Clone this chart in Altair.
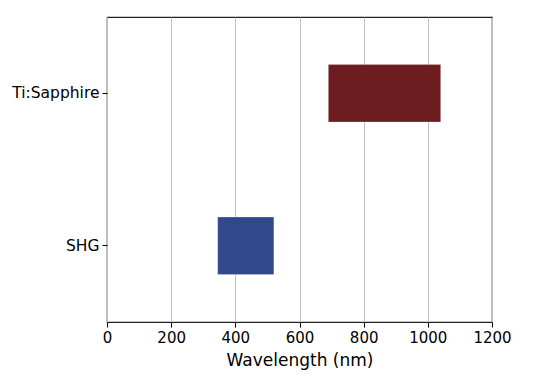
import altair as alt
import pandas as pd

sources = ["Ti:Sapphire", "SHG"]
start_nm = [690, 345]
end_nm = [1040, 520]
colors = ["#6d1c20", "#31488a"]

df = pd.DataFrame({"source": sources, "start": start_nm, "end": end_nm, "color": colors})

chart = alt.Chart(df).mark_bar(height=alt.RelativeBandSize(0.376), stroke="#ffffff", strokeOpacity=0.35, strokeWidth=0.6).encode(
    x=alt.X("start:Q", title="Wavelength (nm)",
            scale=alt.Scale(domain=[0, 1200], nice=False, zero=False),
            axis=alt.Axis(values=[0, 200, 400, 600, 800, 1000, 1200], format="d", grid=True, gridColor="#c0c0c0",
                          gridWidth=1, domain=False, tickColor="#000000", tickSize=5, tickWidth=1,
                          labelFontSize=15, labelColor="#000000", labelFont="DejaVu Sans",
                          labelPadding=3, titleFontSize=17, titleFont="DejaVu Sans",
                          titleFontWeight="normal", titleColor="#000000", titlePadding=7,
                          labelFlush=False)),
    x2="end:Q",
    y=alt.Y("source:N", sort=sources, title=None,
            scale=alt.Scale(paddingInner=0, paddingOuter=0),
            axis=alt.Axis(grid=False, domain=False, tickColor="#000000", tickSize=5, tickWidth=1,
                          labelFontSize=15.5, labelColor="#000000", labelFont="DejaVu Sans",
                          labelPadding=3)),
    color=alt.Color("color:N", scale=None),
).properties(
    width=385, height=305,
    autosize=alt.AutoSizeParams(type="none"),
    padding={"left": 99, "top": 9, "right": 40, "bottom": 50},
    background="#ffffff",
).configure_view(stroke="#222222", strokeWidth=1.2)

chart.save("out.html", embed_options={"renderer": "svg", "actions": False})
